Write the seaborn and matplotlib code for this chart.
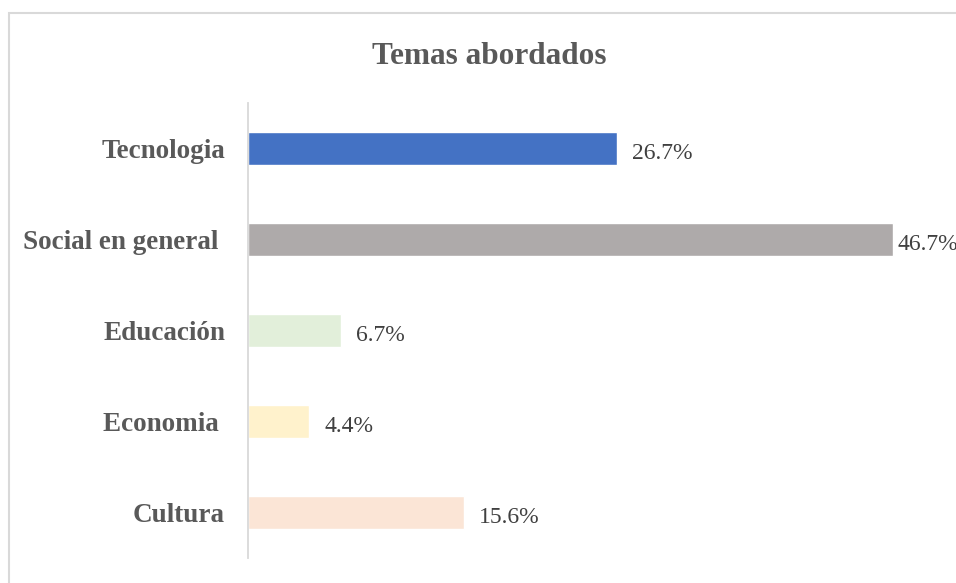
import matplotlib.pyplot as plt
import matplotlib.patches as mpatches
import pandas as pd
import seaborn as sns

TEMAS = ["Tecnologia", "Social en general ", "Educación", "Economia ", "Cultura"]
PORCENTAJES = [26.7, 46.7, 6.7, 4.4, 15.6]
COLORES = ["#4472C4", "#AEAAAA", "#E2EFDA", "#FFF2CC", "#FBE5D6"]

sns.set_style("white")
plt.rcParams["font.family"] = ["Liberation Serif", "DejaVu Serif"]

df = pd.DataFrame({"tema": TEMAS, "pct": PORCENTAJES})

fig = plt.figure(figsize=(9.56, 5.83), dpi=100)
ax = fig.add_axes([248 / 956, 25 / 583, 708 / 956, 455 / 583])

sns.barplot(
    data=df, x="pct", y="tema", hue="tema", order=TEMAS,
    palette=dict(zip(TEMAS, COLORES)), width=0.36, legend=False,
    saturation=1, orient="h", ax=ax,
)

ax.set_xlim(0, 708 / 13.82)
ax.set_ylim(4.5, -0.5)
ax.set_xlabel("")
ax.set_ylabel("")
ax.set_xticks([])
for s in ["top", "right", "bottom"]:
    ax.spines[s].set_visible(False)
ax.spines["left"].set_color("#D9D9D9")
ax.spines["left"].set_linewidth(1.3)
ax.tick_params(axis="y", length=0, pad=16.5, labelsize=19.5, labelcolor="#595959")
for lbl in ax.get_yticklabels():
    lbl.set_fontweight("bold")

# labels sit right of the bar; the longest one is squeezed to fit the chart edge
for i, v in enumerate(PORCENTAJES):
    dx = 3 if v == max(PORCENTAJES) else 11
    ax.annotate(f"{v:.1f}%", (v, i), xytext=(dx, -3.5), textcoords="offset points",
                va="center", ha="left", fontsize=17, color="#404040",
                annotation_clip=False)

fig.text(489 / 956, 1 - 56 / 583, "Temas abordados", ha="center", va="center",
         fontsize=22.5, fontweight="bold", color="#595959")

# chart area border (cropped on right and bottom in the source)
fig.patches.append(mpatches.Rectangle(
    (9 / 956, -0.1), 1.2, 1.1 - 13 / 583, transform=fig.transFigure,
    fill=False, edgecolor="#D9D9D9", linewidth=1.5))

fig.savefig("out.png", dpi=100)
